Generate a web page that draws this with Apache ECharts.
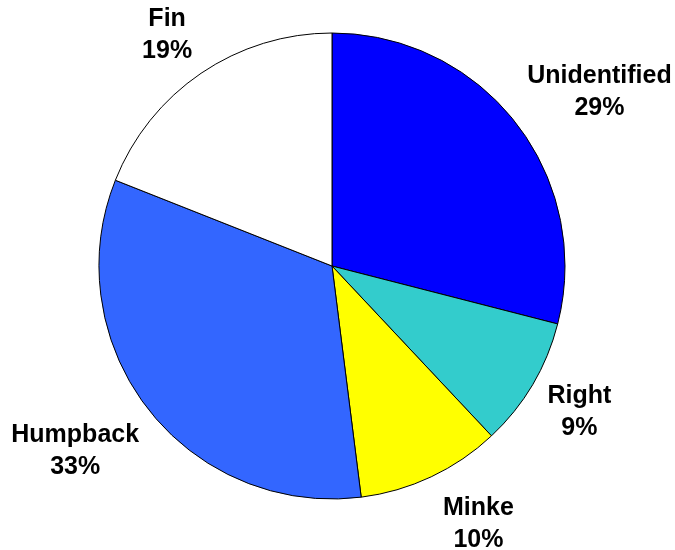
<!DOCTYPE html>
<html>
<head>
<meta charset="utf-8">
<script src="https://cdn.jsdelivr.net/npm/echarts@6/dist/echarts.min.js"></script>
<style>
  html, body { margin: 0; padding: 0; background: #fff; }
  #chart { width: 675px; height: 550px; }
</style>
</head>
<body>
<div id="chart"></div>
<script>
// Whale sightings by species (percent of total)
const species = ['Unidentified', 'Right', 'Minke', 'Humpback', 'Fin'];
const shares = [29, 9, 10, 33, 19];
const colors = ['#0000FF', '#33CCCC', '#FFFF00', '#3366FF', '#FFFFFF'];

// Small hand adjustments of each outside label (pixels, x then y)
const labelNudge = [[17, 20], [0, 0], [24, -2], [-11, -6], [-5, 4]];

const CX = 332, CY = 266, R = 233;
const total = shares.reduce((a, b) => a + b, 0);

// Mid angle of each slice, measured clockwise from 12 o'clock
const midAngles = [];
let acc = 0;
shares.forEach(v => {
  midAngles.push(((acc + v / 2) / total) * 2 * Math.PI);
  acc += v;
});

const chart = echarts.init(document.getElementById('chart'), null, { renderer: 'canvas' });
chart.setOption({
  backgroundColor: '#ffffff',
  animation: false,
  series: [{
    type: 'pie',
    center: [CX, CY],
    radius: R,
    startAngle: 90,
    clockwise: true,
    avoidLabelOverlap: false,
    data: species.map((name, i) => ({
      name: name,
      value: shares[i],
      itemStyle: { color: colors[i] }
    })),
    itemStyle: { borderColor: '#000', borderWidth: 1 },
    label: {
      show: true,
      position: 'outside',
      formatter: p => p.name + '\n' + p.value + '%',
      color: '#000',
      fontFamily: 'Liberation Sans, Arial, sans-serif',
      fontWeight: 'bold',
      fontSize: 25,
      lineHeight: 32,
      align: 'center'
    },
    labelLine: { show: false },
    emphasis: { disabled: true },
    labelLayout: function (params) {
      const i = params.dataIndex;
      const a = midAngles[i];
      const s = Math.sin(a), c = Math.cos(a);
      const w = params.labelRect.width, h = params.labelRect.height;
      const d = R + 15 + 0.9 * (Math.abs(s) * w / 2 + Math.abs(c) * h / 2);
      return {
        x: CX + d * s + labelNudge[i][0],
        y: CY - d * c + labelNudge[i][1],
        align: 'center',
        verticalAlign: 'middle'
      };
    }
  }]
});
</script>
</body>
</html>
